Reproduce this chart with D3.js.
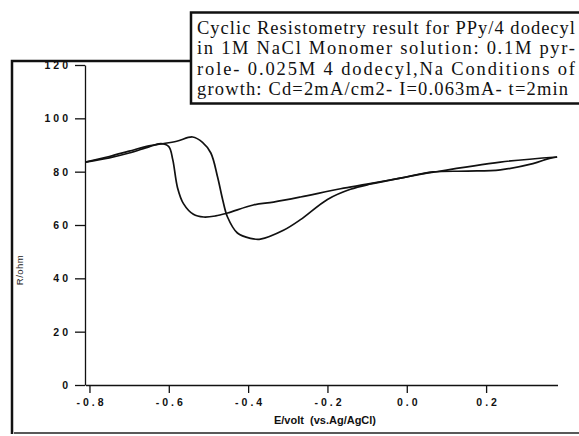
<!DOCTYPE html>
<html>
<head>
<meta charset="utf-8">
<script src="https://cdn.jsdelivr.net/npm/d3@7"></script>
<style>
  body { margin: 0; background: #fff; }
  svg { display: block; }
</style>
</head>
<body>
<svg id="chart" width="579" height="436"></svg>
<script>
// axis ticks
const xTicks = [-0.8, -0.6, -0.4, -0.2, 0.0, 0.2]
const yTicks = [0, 20, 40, 60, 80, 100, 120]

// sweep with the early drop (min near -0.5 V)
const sweepA_E = [-0.81, -0.75, -0.70, -0.65, -0.62, -0.60, -0.59, -0.578, -0.563, -0.538, -0.512, -0.482, -0.452, -0.387, -0.336, -0.268, -0.167, -0.10, -0.016, 0.067, 0.236, 0.379]
const sweepA_R = [83.6, 85.2, 87.0, 89.3, 90.5, 89.4, 84.5, 74.0, 68.0, 64.0, 63.0, 63.4, 64.5, 67.5, 68.6, 70.5, 73.6, 75.3, 77.6, 79.8, 83.6, 85.5]

// sweep with the late drop (min near -0.37 V)
const sweepB_E = [-0.81, -0.75, -0.70, -0.65, -0.62, -0.58, -0.54, -0.515, -0.494, -0.477, -0.464, -0.452, -0.427, -0.394, -0.369, -0.311, -0.268, -0.20, -0.142, -0.09, -0.016, 0.067, 0.153, 0.236, 0.318, 0.36, 0.379]
const sweepB_R = [83.6, 85.7, 87.7, 89.7, 90.4, 91.4, 93.0, 91.0, 87.0, 78.0, 69.4, 63.0, 57.0, 55.0, 54.7, 58.0, 62.0, 69.6, 73.4, 75.4, 77.6, 79.9, 80.2, 80.7, 83.0, 85.0, 85.5]

const titleLines = [
  "Cyclic Resistometry result for PPy/4 dodecyl",
  "in 1M NaCl Monomer solution: 0.1M pyr-",
  "role- 0.025M 4 dodecyl,Na Conditions of",
  "growth: Cd=2mA/cm2- I=0.063mA- t=2min"
]

let svg = d3.select("#chart")

let x = d3.scaleLinear().domain([-0.81, 0.38]).range([85.5, 557.5])
let y = d3.scaleLinear().domain([0, 120]).range([385, 65])

const fmt = (d) => d3.format(".1f")(d).replace("−", "-")

// outer frame (scanned page border)
svg.append("path")
  .attr("d", "M12,434 L12,61 L191,61")
  .attr("fill", "none")
  .attr("stroke", "#111")
  .attr("stroke-width", 2.5)

svg.append("line")
  .attr("x1", 14).attr("x2", 579)
  .attr("y1", 433).attr("y2", 433)
  .attr("stroke", "#222")
  .attr("stroke-width", 1.5)

// x axis
let gx = svg.append("g")
  .attr("transform", "translate(0,385)")
  .call(d3.axisBottom(x).tickValues(xTicks).tickFormat(fmt).tickSize(8).tickSizeOuter(0).tickPadding(6))

gx.select(".domain").attr("stroke", "#111").attr("stroke-width", 1.3)
gx.selectAll(".tick line").attr("stroke", "#111").attr("stroke-width", 1.3)
gx.selectAll(".tick text")
  .attr("fill", "#111")
  .attr("dx", "1.5")
  .style("font-family", "Liberation Sans, Arial, sans-serif")
  .style("font-weight", "bold")
  .style("font-size", "10.5px")
  .style("letter-spacing", "3px")

// y axis
let gy = svg.append("g")
  .attr("transform", "translate(85,0)")
  .call(d3.axisLeft(y).tickValues(yTicks).tickSize(10).tickSizeOuter(0).tickPadding(4))

gy.select(".domain").attr("stroke", "#111").attr("stroke-width", 1.3)
gy.selectAll(".tick line").attr("stroke", "#111").attr("stroke-width", 1.3)
gy.selectAll(".tick text")
  .attr("fill", "#111")
  .style("font-family", "Liberation Sans, Arial, sans-serif")
  .style("font-weight", "bold")
  .style("font-size", "10.5px")
  .style("letter-spacing", "3px")

// axis titles
svg.append("text")
  .text("E/volt  (vs.Ag/AgCl)")
  .attr("x", 325)
  .attr("y", 424)
  .attr("text-anchor", "middle")
  .attr("fill", "#111")
  .style("white-space", "pre")
  .style("font-family", "Liberation Sans, Arial, sans-serif")
  .style("font-weight", "bold")
  .style("font-size", "11px")

svg.append("text")
  .text("R/ohm")
  .attr("transform", "translate(23,270) rotate(-90)")
  .attr("text-anchor", "middle")
  .attr("fill", "#222")
  .style("font-family", "Liberation Sans, Arial, sans-serif")
  .style("font-size", "9.5px")
  .style("letter-spacing", "0.5px")

// curves
let line = d3.line()
  .x((d) => x(d[0]))
  .y((d) => y(d[1]))
  .curve(d3.curveCatmullRom.alpha(0.5))

let sweepA = sweepA_E.map((e, i) => [e, sweepA_R[i]])
let sweepB = sweepB_E.map((e, i) => [e, sweepB_R[i]])

svg.selectAll(".sweep")
  .data([sweepA, sweepB])
  .enter()
  .append("path")
  .attr("class", "sweep")
  .attr("d", line)
  .attr("fill", "none")
  .attr("stroke", "#111")
  .attr("stroke-width", 1.7)

// title box
svg.append("rect")
  .attr("x", 191)
  .attr("y", 12.5)
  .attr("width", 400)
  .attr("height", 91)
  .attr("fill", "#fff")
  .attr("stroke", "#111")
  .attr("stroke-width", 2.5)

const lineWidths = [378, 378, 378, 371]

svg.selectAll(".title-line")
  .data(titleLines)
  .enter()
  .append("text")
  .attr("class", "title-line")
  .attr("x", 197)
  .attr("y", (d, i) => 34 + i * 20.3)
  .attr("textLength", (d, i) => lineWidths[i])
  .attr("lengthAdjust", "spacing")
  .attr("fill", "#111")
  .style("font-family", "Liberation Serif, Times New Roman, serif")
  .style("font-size", "18.5px")
  .text((d) => d)
</script>
</body>
</html>
